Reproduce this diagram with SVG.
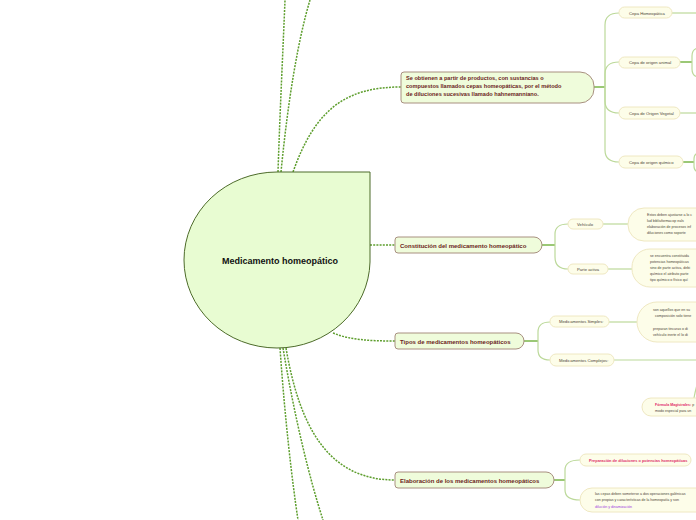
<svg xmlns="http://www.w3.org/2000/svg" width="696" height="520" viewBox="0 0 696 520">
<style>
.dot{fill:none;stroke:#5e9e2e;stroke-width:1.5;stroke-dasharray:2 1.2}
.br{fill:none;stroke:#bcd99a;stroke-width:1.2}
.rt{fill:none;stroke:#7ab648;stroke-width:1.5}
.l1{fill:#effcdb;stroke:#a89080;stroke-width:1}
.l2{fill:#fdfde9;stroke:#efe8c2;stroke-width:1}
.t1{font-family:"Liberation Sans",Arial,sans-serif;font-weight:bold;fill:#6b1c1c}
.t2{font-family:"Liberation Sans",Arial,sans-serif;font-size:4.2px;fill:#4d4538}
.t3{font-family:"Liberation Sans",Arial,sans-serif;font-size:3.6px;fill:#4d4538}
</style>
<rect width="696" height="520" fill="#ffffff"/>
<g id="connectors">
<path class="dot" d="M278,172 C280,110 283,50 285,0"/>
<path class="dot" d="M281,172 C288,100 298,40 310,0"/>
<path class="dot" d="M293,172 C315,110 345,87 401,87"/>
<path class="dot" d="M370,245 H395"/>
<path class="dot" d="M333,333 C350,340 370,341 395,341"/>
<path class="dot" d="M286,348 C300,430 330,480 395,480"/>
<path class="dot" d="M280,348 C285,420 292,480 298,520"/>
<path class="dot" d="M283,348 C295,420 310,480 323,520"/>
<path class="rt" d="M594,87 H605"/>
<path class="br" d="M605,87 V25 Q605,13 619,13"/>
<path class="br" d="M605,87 V74 Q605,62 619,62"/>
<path class="br" d="M605,87 V101 Q605,113 619,113"/>
<path class="br" d="M605,87 V150 Q605,162 619,162"/>
<path class="br" d="M672,13 H696"/>
<path class="rt" d="M680,62 H692"/>
<path class="br" d="M692,62 V56 Q692,49 698,48 M692,62 V69 Q692,76 698,77"/>
<path class="br" d="M680,113 H696"/>
<path class="rt" d="M683,162 H694"/>
<path class="br" d="M694,162 V159 Q694,154 698,153 M694,162 V166 Q694,171 698,172"/>
<path class="rt" d="M542,245 H555"/>
<path class="br" d="M555,245 V234 Q555,224 568,224"/>
<path class="br" d="M555,245 V257 Q555,269 568,269"/>
<path class="br" d="M603,224 H628"/>
<path class="br" d="M608,269 H632"/>
<path class="rt" d="M524,341 H538"/>
<path class="br" d="M538,341 V332 Q538,322 550,322"/>
<path class="br" d="M538,341 V350 Q538,360 550,360"/>
<path class="br" d="M609,322 H637"/>
<path class="br" d="M614,360 H696"/>
<path class="br" d="M697,385 Q695,392 694,398"/>
<path class="rt" d="M554,480 H565"/>
<path class="br" d="M565,480 V470 Q565,460 580,460"/>
<path class="br" d="M565,480 V490 Q565,500 580,500"/>
</g>
<g id="central">
<path d="M277,172 H370 V262 A93,88 0 0 1 277,348 A93,88 0 0 1 184,260 A93,88 0 0 1 277,172 Z" fill="#e8fcd2" stroke="#4d6b2a" stroke-width="1"/>
<text x="280" y="264" text-anchor="middle" font-family="'Liberation Sans',Arial,sans-serif" font-weight="bold" font-size="9" fill="#111">Medicamento homeopático</text>
</g>
<g id="n-obtienen">
<path class="l1" d="M404,72 H580 A14,14 0 0 1 594,86 V89 A14,14 0 0 1 580,103 H404 Q401,103 401,100 V75 Q401,72 404,72 Z"/>
<text class="t1" font-size="5.6"><tspan x="406" y="80">Se obtienen a partir de productos, con sustancias o</tspan><tspan x="406" y="88">compuestos llamados cepas homeopáticas, por el método</tspan><tspan x="406" y="96">de diluciones sucesivas llamado hahnemanniano.</tspan></text>
</g>
<g id="n-cepa-homeo"><rect class="l2" x="619" y="7" width="53" height="11" rx="5.5"/><text class="t2" x="629" y="14.5">Cepa Homeopática</text></g>
<g id="n-cepa-animal"><rect class="l2" x="619" y="57" width="61" height="11" rx="5.5"/><text class="t2" x="629" y="63.5">Cepa de origen animal</text></g>
<g id="n-cepa-vegetal"><rect class="l2" x="619" y="107" width="61" height="12" rx="6"/><text class="t2" x="629" y="114.5">Cepa de Origen Vegetal</text></g>
<g id="n-cepa-quimico"><rect class="l2" x="619" y="156" width="64" height="12" rx="6"/><text class="t2" x="629" y="163.5">Cepa de origen químico</text></g>
<g id="n-constitucion">
<path class="l1" d="M398,237 H534 A8,8 0 0 1 534,253 H398 Q395,253 395,250 V240 Q395,237 398,237 Z"/>
<text class="t1" font-size="6" x="400" y="247.5">Constitución del medicamento homeopático</text>
</g>
<g id="n-vehiculo"><rect class="l2" x="568" y="219" width="35" height="10" rx="5"/><text class="t2" x="577" y="225.5">Vehículo</text></g>
<g id="n-parte"><rect class="l2" x="568" y="264" width="40" height="10" rx="5"/><text class="t2" x="577" y="270.5">Parte activa</text></g>
<g id="n-vehiculo-desc"><rect class="l2" x="628" y="208" width="110" height="33" rx="16"/><text class="t3"><tspan x="647" y="216">Estos deben ajustarse a lo c</tspan><tspan x="647" y="222">lud bibliuformacop eals</tspan><tspan x="647" y="228">elaboración de procesos inf</tspan><tspan x="647" y="234">diluciones como soporte</tspan></text></g>
<g id="n-parte-desc"><rect class="l2" x="632" y="249" width="110" height="38" rx="18"/><text class="t3"><tspan x="650" y="257">se encuentra constituida</tspan><tspan x="650" y="263">potencias homeopáticas</tspan><tspan x="650" y="269">sino de parte activa, debi</tspan><tspan x="650" y="274.5">químico el atributo parte</tspan><tspan x="650" y="280.5">tipo químico o físico quí</tspan></text></g>
<g id="n-tipos">
<path class="l1" d="M398,333 H516 A8,8 0 0 1 516,349 H398 Q395,349 395,346 V336 Q395,333 398,333 Z"/>
<text class="t1" font-size="6" x="400" y="343.5">Tipos de medicamentos homeopáticos</text>
</g>
<g id="n-simples"><rect class="l2" x="550" y="316" width="59" height="11" rx="5.5"/><text class="t2" x="559" y="323">Medicamentos Simples:</text></g>
<g id="n-complejos"><rect class="l2" x="550" y="354" width="64" height="12" rx="6"/><text class="t2" x="559" y="361.5">Medicamentos Complejos:</text></g>
<g id="n-simples-desc"><rect class="l2" x="637" y="302" width="110" height="40" rx="20"/><text class="t3"><tspan x="653" y="311">son aquellos que en su</tspan><tspan x="655" y="317">composición solo tiene</tspan><tspan x="653" y="330">preparan tincuras o di</tspan><tspan x="653" y="336">vehículo inerte el lo di</tspan></text></g>
<g id="n-formula"><rect class="l2" x="642" y="398" width="100" height="18" rx="9"/><text class="t3"><tspan x="655" y="405.5"><tspan font-weight="bold" fill="#e0286a">Fórmula Magistrales:</tspan> p</tspan><tspan x="655" y="411.5">modo especial para un</tspan></text></g>
<g id="n-elaboracion">
<path class="l1" d="M398,472 H546 A8,8 0 0 1 546,488 H398 Q395,488 395,485 V475 Q395,472 398,472 Z"/>
<text class="t1" font-size="6" x="400" y="482.5">Elaboración de los medicamentos homeopáticos</text>
</g>
<g id="n-preparacion"><rect class="l2" x="580" y="454" width="111" height="12" rx="6"/><text font-family="'Liberation Sans',Arial,sans-serif" font-size="3.9" font-weight="bold" fill="#e0306a" x="589" y="461.5">Preparación de diluciones o potencias homeopáticas</text></g>
<g id="n-cepas-desc"><rect class="l2" x="580" y="488" width="130" height="24" rx="12"/><text class="t3"><tspan x="595" y="494.5">las cepas deben someterse a dos operaciones galénicas</tspan><tspan x="595" y="501">con propias y características de la homeopatía y son</tspan><tspan x="595" y="507.5" fill="#a040e0">dilución y dinamización</tspan></text></g>
</svg>
